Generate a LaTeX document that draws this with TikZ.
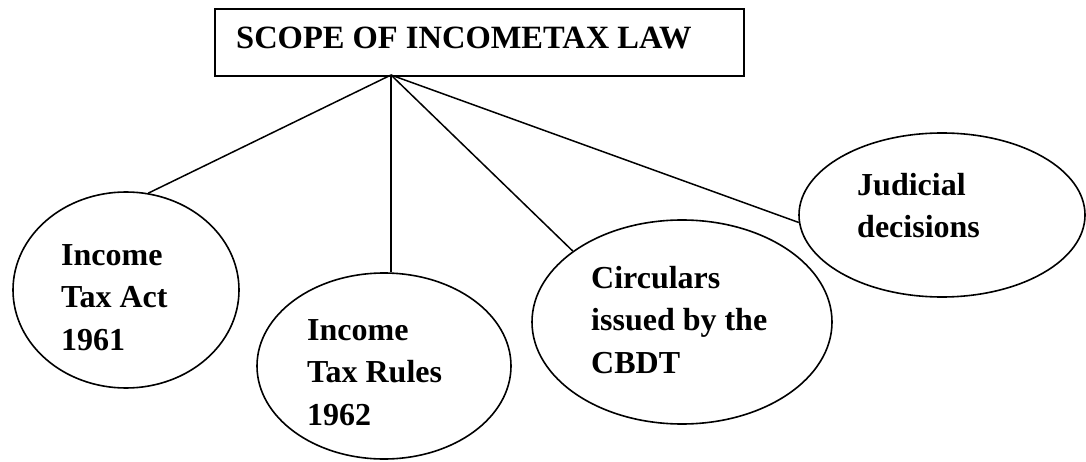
\documentclass[tikz,border=0pt]{standalone}
\usepackage{fontspec}
\setmainfont{Liberation Serif}
\usetikzlibrary{shapes.geometric}
\begin{document}
\begin{tikzpicture}[x=1pt,y=-1pt,
  lbl/.style={inner sep=0pt, anchor=base west, align=left,
              font=\fontsize{32}{42.5}\selectfont\bfseries},
  oval/.style={ellipse, draw, line width=1.6pt, inner sep=0pt},
  titlebox/.style={draw, line width=1.8pt, inner sep=0pt, anchor=north west},
  link/.style={line width=1.5pt}]
\useasboundingbox (0,0) rectangle (1086,462);

% heading box
\node[titlebox, minimum width=529pt, minimum height=67pt] (top) at (214,8) {};
\node[lbl, font=\fontsize{32.5}{40}\selectfont\bfseries] (toptext) at (236,49) {SCOPE OF INCOMETAX LAW};
\coordinate (hub) at (391,75);

% sources
\node[oval, minimum width=226pt, minimum height=196pt] (e1) at (126,290) {};
\node[oval, minimum width=254pt, minimum height=186pt] (e2) at (384,366) {};
\node[oval, minimum width=300pt, minimum height=204pt] (e3) at (682,322) {};
\node[oval, minimum width=286pt, minimum height=164pt] (e4) at (942,215) {};

% labels (anchored at the baseline of their last line)
\node[lbl] (t1) at (61,350) {Income\\Tax Act\\1961};
\node[lbl] (t2) at (307,425) {Income\\Tax Rules\\1962};
\node[lbl] (t3) at (591,373) {Circulars\\issued by the\\CBDT};
\node[lbl] (t4) at (857,238) {Judicial\\decisions};

% connectors
\draw[link] (hub) -- (e1.77);
\draw[link] (hub) -- (hub |- e2.north);
\draw[link] (hub) -- (e3.147.5);
\draw[link] (hub) -- (e4.183);
\end{tikzpicture}
\end{document}
